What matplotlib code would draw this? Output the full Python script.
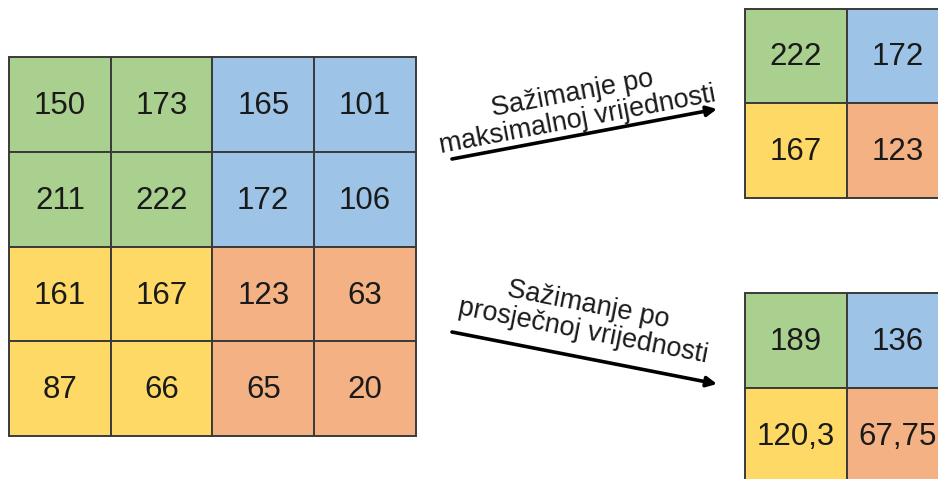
import numpy as np
import matplotlib.pyplot as plt
from matplotlib.patches import Rectangle

plt.rcParams["font.family"] = ["Liberation Sans", "DejaVu Sans"]

# input feature map (4x4) and pooled results (2x2)
INPUT_VALUES = [
    ["150", "173", "165", "101"],
    ["211", "222", "172", "106"],
    ["161", "167", "123", "63"],
    ["87", "66", "65", "20"],
]
MAX_POOL_VALUES = [["222", "172"], ["167", "123"]]
AVG_POOL_VALUES = [["189", "136"], ["120,3", "67,75"]]

MAX_LABEL = "Sažimanje po\nmaksimalnoj vrijednosti"
AVG_LABEL = "Sažimanje po\nprosječnoj vrijednosti"

# quadrant colours: top-left, top-right, bottom-left, bottom-right
QUAD_COLORS = [["#a9d08e", "#9dc3e6"], ["#ffd966", "#f4b183"]]
EDGE_COLOR = "#3a3a3a"

W, H = 938, 479
CELL_W = 101.7
CELL_H = 94.8


def draw_grid(ax, values, x0, y0, block):
    n = len(values)
    for r in range(n):
        for c in range(n):
            color = QUAD_COLORS[r // block][c // block]
            x = x0 + c * CELL_W
            y = y0 + r * CELL_H
            ax.add_patch(Rectangle(
                (x, y), CELL_W, CELL_H,
                facecolor=color, edgecolor=EDGE_COLOR, linewidth=1.4
            ))
            ax.text(
                x + CELL_W / 2, y + CELL_H / 2 + 1.5, values[r][c],
                ha="center", va="center", fontsize=22.5, color="#1a1a1a"
            )


def draw_arrow(ax, start, end, label, label_pos, angle):
    ax.annotate(
        "", xy=end, xytext=start,
        arrowprops=dict(arrowstyle="-|>,head_length=0.6,head_width=0.3",
                        color="black", lw=2.6, shrinkA=0, shrinkB=0)
    )
    ax.text(
        label_pos[0], label_pos[1], label,
        ha="center", va="center", rotation=angle, rotation_mode="anchor",
        multialignment="center", fontsize=19.5, color="#1a1a1a",
        linespacing=1.05
    )


def main():
    fig = plt.figure(figsize=(W / 100, H / 100), dpi=100)
    ax = fig.add_axes([0, 0, 1, 1])
    ax.set_xlim(0, W)
    ax.set_ylim(H, 0)
    ax.axis("off")

    draw_grid(ax, INPUT_VALUES, 9, 57, 2)
    draw_grid(ax, MAX_POOL_VALUES, 745, 8.5, 1)
    draw_grid(ax, AVG_POOL_VALUES, 745, 293, 1)

    draw_arrow(ax, (452, 159), (717, 109), MAX_LABEL, (575, 107), 10.7)
    draw_arrow(ax, (452, 332), (717, 384), AVG_LABEL, (586, 318), -11.0)

    fig.savefig("out.png", dpi=100)
    plt.close(fig)


if __name__ == "__main__":
    main()
